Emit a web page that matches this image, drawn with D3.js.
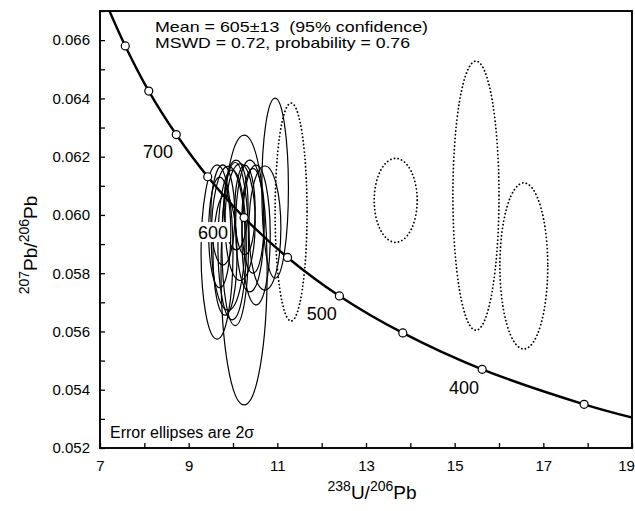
<!DOCTYPE html>
<html>
<head>
<meta charset="utf-8">
<script src="https://cdn.jsdelivr.net/npm/d3@7"></script>
<style>
  body { margin: 0; background: #fff; }
  text { font-family: "Liberation Sans", Arial, sans-serif; fill: #000; }
</style>
</head>
<body>
<div id="chart"></div>
<script>
// concordia age markers (Ma) and their positions
let markerAge = [800, 750, 700, 650, 600, 550, 500, 450, 400, 350]
let markerU = [7.57, 8.10, 8.72, 9.43, 10.25, 11.23, 12.40, 13.83, 15.62, 17.92]
let markerPb = [0.0658, 0.06425, 0.06276, 0.06131, 0.05991, 0.05854, 0.05722, 0.05595, 0.0547, 0.0535]

// concordia curve trace (runs past the frame at both ends)
let curveU = [7.10, 7.57, 8.10, 8.72, 9.43, 10.25, 11.23, 12.40, 13.83, 15.62, 17.92, 19.04]
let curvePb = [0.0674, 0.0658, 0.06425, 0.06276, 0.06131, 0.05991, 0.05854, 0.05722, 0.05595, 0.0547, 0.0535, 0.05303]

// age labels
let labelAge = ["700", "600", "500", "400"]
let labelU = [8.31, 9.55, 12.0, 15.21]
let labelPb = [0.06216, 0.05941, 0.05663, 0.05409]

// accepted analyses (solid): centre and 2 sigma half widths
let solidU = [10.95, 10.25, 9.64, 10.72, 9.89, 9.98, 10.16, 10.38, 9.77, 10.07, 10.52, 9.82, 10.27, 9.70, 10.45, 10.05]
let solidPb = [0.06092, 0.05811, 0.05873, 0.05955, 0.0592, 0.05897, 0.05975, 0.05962, 0.0600, 0.06034, 0.05931, 0.05862, 0.06017, 0.0594, 0.0598, 0.0590]
let solidSU = [0.30, 0.52, 0.36, 0.36, 0.38, 0.32, 0.34, 0.32, 0.27, 0.27, 0.32, 0.27, 0.23, 0.25, 0.25, 0.30]
let solidSPb = [0.00309, 0.00463, 0.00299, 0.00213, 0.00247, 0.00257, 0.0020, 0.00226, 0.00172, 0.00154, 0.0024, 0.00206, 0.00154, 0.0019, 0.0018, 0.0028]

// rejected analyses (dotted)
let rejU = [11.31, 13.67, 15.48, 16.56]
let rejPb = [0.0601, 0.0605, 0.06066, 0.05825]
let rejSU = [0.36, 0.485, 0.52, 0.54]
let rejSPb = [0.00374, 0.00144, 0.00462, 0.00285]

let xTicks = [7, 9, 11, 13, 15, 17, 19]
let yTicks = [0.052, 0.054, 0.056, 0.058, 0.060, 0.062, 0.064, 0.066]

let width = 635
let height = 511
let margin = {top: 11, right: 3, bottom: 63, left: 100}

let svg = d3.select("#chart")
  .append("svg")
  .attr("width", width)
  .attr("height", height)

let xScale = d3.scaleLinear()
  .domain([7, 19])
  .range([margin.left, width - margin.right])

let yScale = d3.scaleLinear()
  .domain([0.052, 0.067])
  .range([height - margin.bottom, margin.top])

svg.append("clipPath").attr("id", "plotclip")
  .append("rect")
  .attr("x", margin.left)
  .attr("y", margin.top)
  .attr("width", width - margin.left - margin.right)
  .attr("height", height - margin.top - margin.bottom)

let plot = svg.append("g").attr("clip-path", "url(#plotclip)")

// ellipses
function drawEllipses(us, pbs, sus, spbs, cls) {
  plot.selectAll("ellipse." + cls)
    .data(us.map((u, i) => ({u: u, pb: pbs[i], su: sus[i], spb: spbs[i]})))
    .enter()
    .append("ellipse")
    .attr("class", cls)
    .attr("cx", d => xScale(d.u))
    .attr("cy", d => yScale(d.pb))
    .attr("rx", d => xScale(d.u + d.su) - xScale(d.u))
    .attr("ry", d => yScale(d.pb - d.spb) - yScale(d.pb))
    .attr("fill", "none")
    .attr("stroke", "#000")
}

drawEllipses(rejU, rejPb, rejSU, rejSPb, "rej")
plot.selectAll("ellipse.rej")
  .attr("stroke-width", 1.8)
  .attr("stroke-dasharray", "0.1,3.6")
  .attr("stroke-linecap", "round")

drawEllipses(solidU, solidPb, solidSU, solidSPb, "acc")
plot.selectAll("ellipse.acc")
  .attr("stroke-width", 1.2)

// concordia
let line = d3.line()
  .x(d => xScale(d[0]))
  .y(d => yScale(d[1]))
  .curve(d3.curveCatmullRom)

plot.append("path")
  .datum(curveU.map((u, i) => [u, curvePb[i]]))
  .attr("d", line)
  .attr("fill", "none")
  .attr("stroke", "#000")
  .attr("stroke-width", 2.4)

plot.selectAll("circle.marker")
  .data(markerAge)
  .enter()
  .append("circle")
  .attr("class", "marker")
  .attr("cx", (d, i) => xScale(markerU[i]))
  .attr("cy", (d, i) => yScale(markerPb[i]))
  .attr("r", 4)
  .attr("fill", "#fff")
  .attr("stroke", "#000")
  .attr("stroke-width", 1.2)

// age labels with white backing
let ageLab = svg.selectAll("g.agelab")
  .data(labelAge)
  .enter()
  .append("g")
  .attr("class", "agelab")
  .attr("transform", (d, i) => `translate(${xScale(labelU[i])},${yScale(labelPb[i])})`)

ageLab.filter(d => d == "600")
  .append("rect")
  .attr("x", -17).attr("y", -10)
  .attr("width", 34).attr("height", 20)
  .attr("fill", "#fff")

ageLab.append("text")
  .attr("text-anchor", "middle")
  .attr("dy", "0.36em")
  .style("font-size", "18px")
  .text(d => d)

// frame
svg.append("rect")
  .attr("x", margin.left)
  .attr("y", margin.top)
  .attr("width", width - margin.left - margin.right)
  .attr("height", height - margin.top - margin.bottom)
  .attr("fill", "none")
  .attr("stroke", "#000")
  .attr("stroke-width", 1.9)

// axes, ticks inside
let xAxis = d3.axisBottom(xScale)
  .tickValues(d3.range(7, 19.01, 1))
  .tickSize(-5)
  .tickFormat(d => xTicks.includes(d) ? d : "")

let gx = svg.append("g")
  .attr("transform", `translate(0,${height - margin.bottom})`)
  .call(xAxis)
gx.select(".domain").remove()
gx.selectAll(".tick line").attr("stroke-width", 1.3)
gx.selectAll(".tick text")
  .attr("y", 12)
  .attr("x", d => d == 19 ? -6 : 0)
  .style("font-size", "15px")
  .style("font-family", "Liberation Sans, Arial, sans-serif")

let yAxis = d3.axisLeft(yScale)
  .tickValues(d3.range(0, 16).map(k => 0.052 + k * 0.001))
  .tickSize(-5)
  .tickFormat(d => yTicks.some(t => Math.abs(t - d) < 1e-9) ? d3.format(".3f")(d) : "")

let gy = svg.append("g")
  .attr("transform", `translate(${margin.left},0)`)
  .call(yAxis)
gy.select(".domain").remove()
gy.selectAll(".tick line").attr("stroke-width", 1.3)
gy.selectAll(".tick text")
  .attr("x", -10)
  .style("font-size", "15px")
  .style("font-family", "Liberation Sans, Arial, sans-serif")

// axis titles
let xt = svg.append("text")
  .attr("x", 372)
  .attr("y", 499)
  .attr("text-anchor", "middle")
  .style("font-size", "19px")
xt.append("tspan").attr("font-size", "14px").attr("dy", "-8").text("238")
xt.append("tspan").attr("dy", "8").text("U/")
xt.append("tspan").attr("font-size", "14px").attr("dy", "-8").text("206")
xt.append("tspan").attr("dy", "8").text("Pb")

let yt = svg.append("text")
  .attr("transform", "translate(37,245) rotate(-90)")
  .attr("text-anchor", "middle")
  .style("font-size", "19px")
yt.append("tspan").attr("font-size", "14px").attr("dy", "-8").text("207")
yt.append("tspan").attr("dy", "8").text("Pb/")
yt.append("tspan").attr("font-size", "14px").attr("dy", "-8").text("206")
yt.append("tspan").attr("dy", "8").text("Pb")

// annotations
svg.append("text")
  .attr("x", 155).attr("y", 32)
  .style("font-size", "15px")
  .attr("xml:space", "preserve")
  .attr("textLength", 273)
  .attr("lengthAdjust", "spacingAndGlyphs")
  .text("Mean = 605\u00b113  (95% confidence)")

svg.append("text")
  .attr("x", 155).attr("y", 48)
  .style("font-size", "15px")
  .attr("textLength", 255)
  .attr("lengthAdjust", "spacingAndGlyphs")
  .text("MSWD = 0.72, probability = 0.76")

svg.append("text")
  .attr("x", 110).attr("y", 438)
  .style("font-size", "16px")
  .text("Error ellipses are 2\u03c3")
</script>
</body>
</html>
